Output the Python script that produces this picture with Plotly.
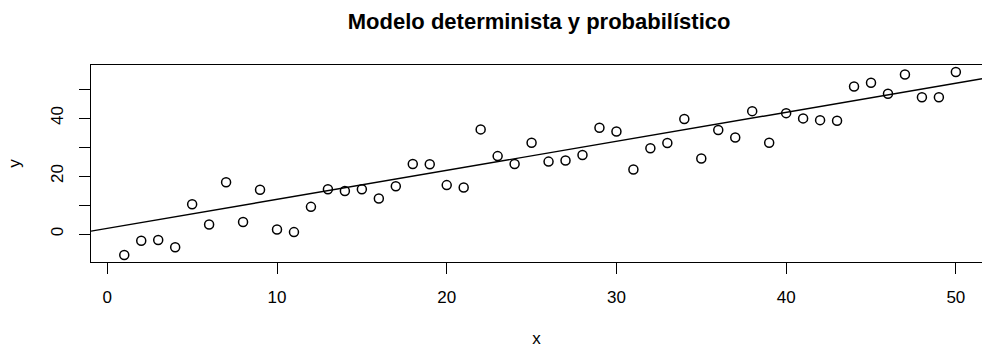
import plotly.graph_objects as go

# Observed values (x = 1..50) and the deterministic model y = a + b*x
x_vals = list(range(1, 51))
y_vals = [-7.2, -2.3, -2.0, -4.5, 10.3, 3.3, 17.9, 4.2, 15.3, 1.6,
          0.7, 9.4, 15.5, 14.9, 15.5, 12.3, 16.5, 24.2, 24.1, 16.9,
          16.1, 36.1, 26.9, 24.2, 31.5, 25.0, 25.4, 27.3, 36.7, 35.4,
          22.3, 29.6, 31.4, 39.7, 26.1, 35.9, 33.3, 42.4, 31.5, 41.7,
          39.9, 39.3, 39.1, 50.9, 52.2, 48.4, 55.0, 47.2, 47.2, 55.9]
intercept = 2.0
slope = 1.0

x_ticks = [0, 10, 20, 30, 40, 50]
y_ticks = [0, 10, 20, 30, 40, 50]
y_ticktext = ["0", "", "20", "", "40", ""]

x_range = [-0.96, 51.54]
y_range = [-9.6, 58.3]

FONT = "Liberation Sans, Arial, Helvetica, sans-serif"

fig = go.Figure()

fig.add_trace(go.Scatter(
    x=x_vals, y=y_vals, mode="markers",
    marker=dict(symbol="circle-open", size=9, color="black",
                line=dict(width=1.5, color="black")),
    showlegend=False, hoverinfo="x+y",
))

# Straight line across the whole plotting region
line_x = [x_range[0], x_range[1]]
line_y = [intercept + slope * v for v in line_x]
fig.add_trace(go.Scatter(
    x=line_x, y=line_y, mode="lines",
    line=dict(color="black", width=1.4),
    showlegend=False, hoverinfo="skip",
))

axis_common = dict(
    showgrid=False, zeroline=False, automargin=False,
    showline=True, linecolor="black", linewidth=1.2,
    ticks="outside", ticklen=11, tickwidth=1, tickcolor="black",
    tickfont=dict(family=FONT, size=17, color="black"),
)

fig.update_layout(
    width=982, height=348,
    margin=dict(l=91, r=0, t=65, b=86),
    paper_bgcolor="white", plot_bgcolor="white",
    title=dict(text="<b>Modelo determinista y probabilístico</b>",
               font=dict(family=FONT, size=22, color="black"),
               xref="container", x=0.549, xanchor="center",
               yref="container", y=0.94, yanchor="middle"),
    xaxis=dict(range=x_range, tickvals=x_ticks, mirror=True,
               ticklabelstandoff=8,
               title=dict(text="x", font=dict(family=FONT, size=17, color="black"),
                          standoff=32),
               **axis_common),
    yaxis=dict(range=y_range, tickvals=y_ticks, ticktext=y_ticktext,
               tickangle=-90, mirror=False, ticklabelstandoff=9,
               title=dict(text="y", font=dict(family=FONT, size=17, color="black"),
                          standoff=23),
               **axis_common),
)

fig.write_html("out.html")
